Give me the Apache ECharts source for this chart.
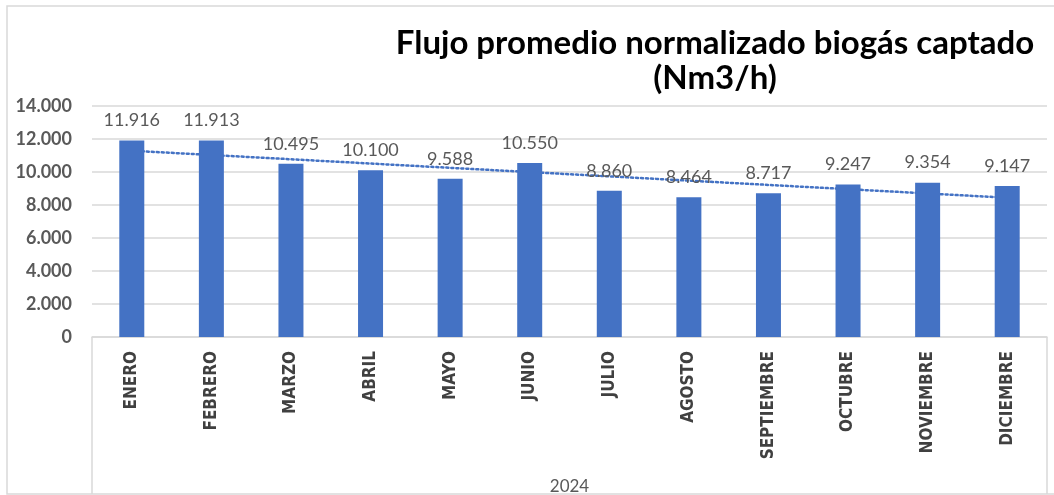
<!DOCTYPE html>
<html lang="es">
<head>
    <meta charset="UTF-8">
    <title>Flujo promedio normalizado biogás captado</title>
    <script src="https://cdn.jsdelivr.net/npm/echarts@6/dist/echarts.min.js"></script>
    <style>
        html, body {margin: 0; padding: 0; background: #fff;}
        #chart {width: 1054px; height: 495px;}
    </style>
</head>
<body>
<div id="chart"></div>
<script>
    // datos
    var meses = ['ENERO', 'FEBRERO', 'MARZO', 'ABRIL', 'MAYO', 'JUNIO', 'JULIO',
        'AGOSTO', 'SEPTIEMBRE', 'OCTUBRE', 'NOVIEMBRE', 'DICIEMBRE'];
    var flujo = [11916, 11913, 10495, 10100, 9588, 10550, 8860, 8464, 8717, 9247, 9354, 9147];
    // linea de tendencia (solo extremos)
    var tendencia = [11290, null, null, null, null, null, null, null, null, null, null, 8440];
    var yTicks = [0, 2000, 4000, 6000, 8000, 10000, 12000, 14000];
    var anio = '2024';

    function miles(v) {
        return String(v).replace(/\B(?=(\d{3})+(?!\d))/g, '.');
    }

    var gLeft = 92, gRight = 7, gTop = 106, gBottom = 158;
    var W = 1054, H = 495;
    var gris = '#d9d9d9';

    var chart = echarts.init(document.getElementById('chart'));

    var option = {
        backgroundColor: '#fff',
        animation: false,
        title: {
            text: 'Flujo promedio normalizado biogás captado\n(Nm3/h)',
            left: 710,
            top: 21,
            textAlign: 'center',
            textStyle: {
                fontFamily: 'Lato',
                fontWeight: 'bold',
                fontSize: 33,
                lineHeight: 35,
                color: '#000'
            }
        },
        grid: {left: gLeft, right: gRight, top: gTop, bottom: gBottom, outerBoundsMode: 'none', containLabel: false},
        xAxis: {
            type: 'category',
            data: meses,
            name: anio,
            nameLocation: 'middle',
            nameGap: 141,
            nameTextStyle: {fontFamily: 'Lato', fontSize: 17, color: '#595959'},
            axisLine: {lineStyle: {color: gris, width: 1.5}},
            axisTick: {show: false},
            axisLabel: {
                rotate: 90,
                interval: 0,
                margin: 14,
                fontFamily: 'Liberation Sans Narrow, DejaVu Sans Condensed',
                fontWeight: 'bold',
                fontSize: 17,
                color: '#404040'
            }
        },
        yAxis: {
            type: 'value',
            min: yTicks[0],
            max: yTicks[yTicks.length - 1],
            interval: yTicks[1] - yTicks[0],
            axisLine: {show: false},
            axisTick: {show: false},
            splitLine: {lineStyle: {color: gris, width: 1.5}},
            axisLabel: {
                margin: 20,
                fontFamily: 'Lato',
                fontWeight: 'bold',
                fontSize: 18,
                color: '#595959',
                formatter: miles
            }
        },
        series: [
            {
                type: 'bar',
                data: flujo,
                barWidth: 25,
                z: 3,
                itemStyle: {color: '#4472C4'},
                label: {
                    show: true,
                    position: 'top',
                    distance: 11,
                    fontFamily: 'Lato',
                    fontSize: 18,
                    color: '#595959',
                    formatter: function (p) { return miles(p.value); }
                }
            },
            {
                type: 'line',
                data: tendencia,
                connectNulls: true,
                symbol: 'none',
                z: 1,
                lineStyle: {color: '#4472C4', width: 2.5, type: [2, 3], cap: 'round'}
            }
        ],
        graphic: [
            {
                type: 'rect',
                shape: {x: 7, y: 6, width: W + 10, height: H - 7},
                style: {fill: null, stroke: gris, lineWidth: 1.5},
                silent: true
            },
            {
                type: 'line',
                shape: {x1: gLeft, y1: H - gBottom, x2: gLeft, y2: H - 1},
                style: {stroke: gris, lineWidth: 1.5}
            },
            {
                type: 'line',
                shape: {x1: W - gRight, y1: H - gBottom, x2: W - gRight, y2: H - 1},
                style: {stroke: gris, lineWidth: 1.5}
            }
        ]
    };

    chart.setOption(option);
</script>
</body>
</html>
